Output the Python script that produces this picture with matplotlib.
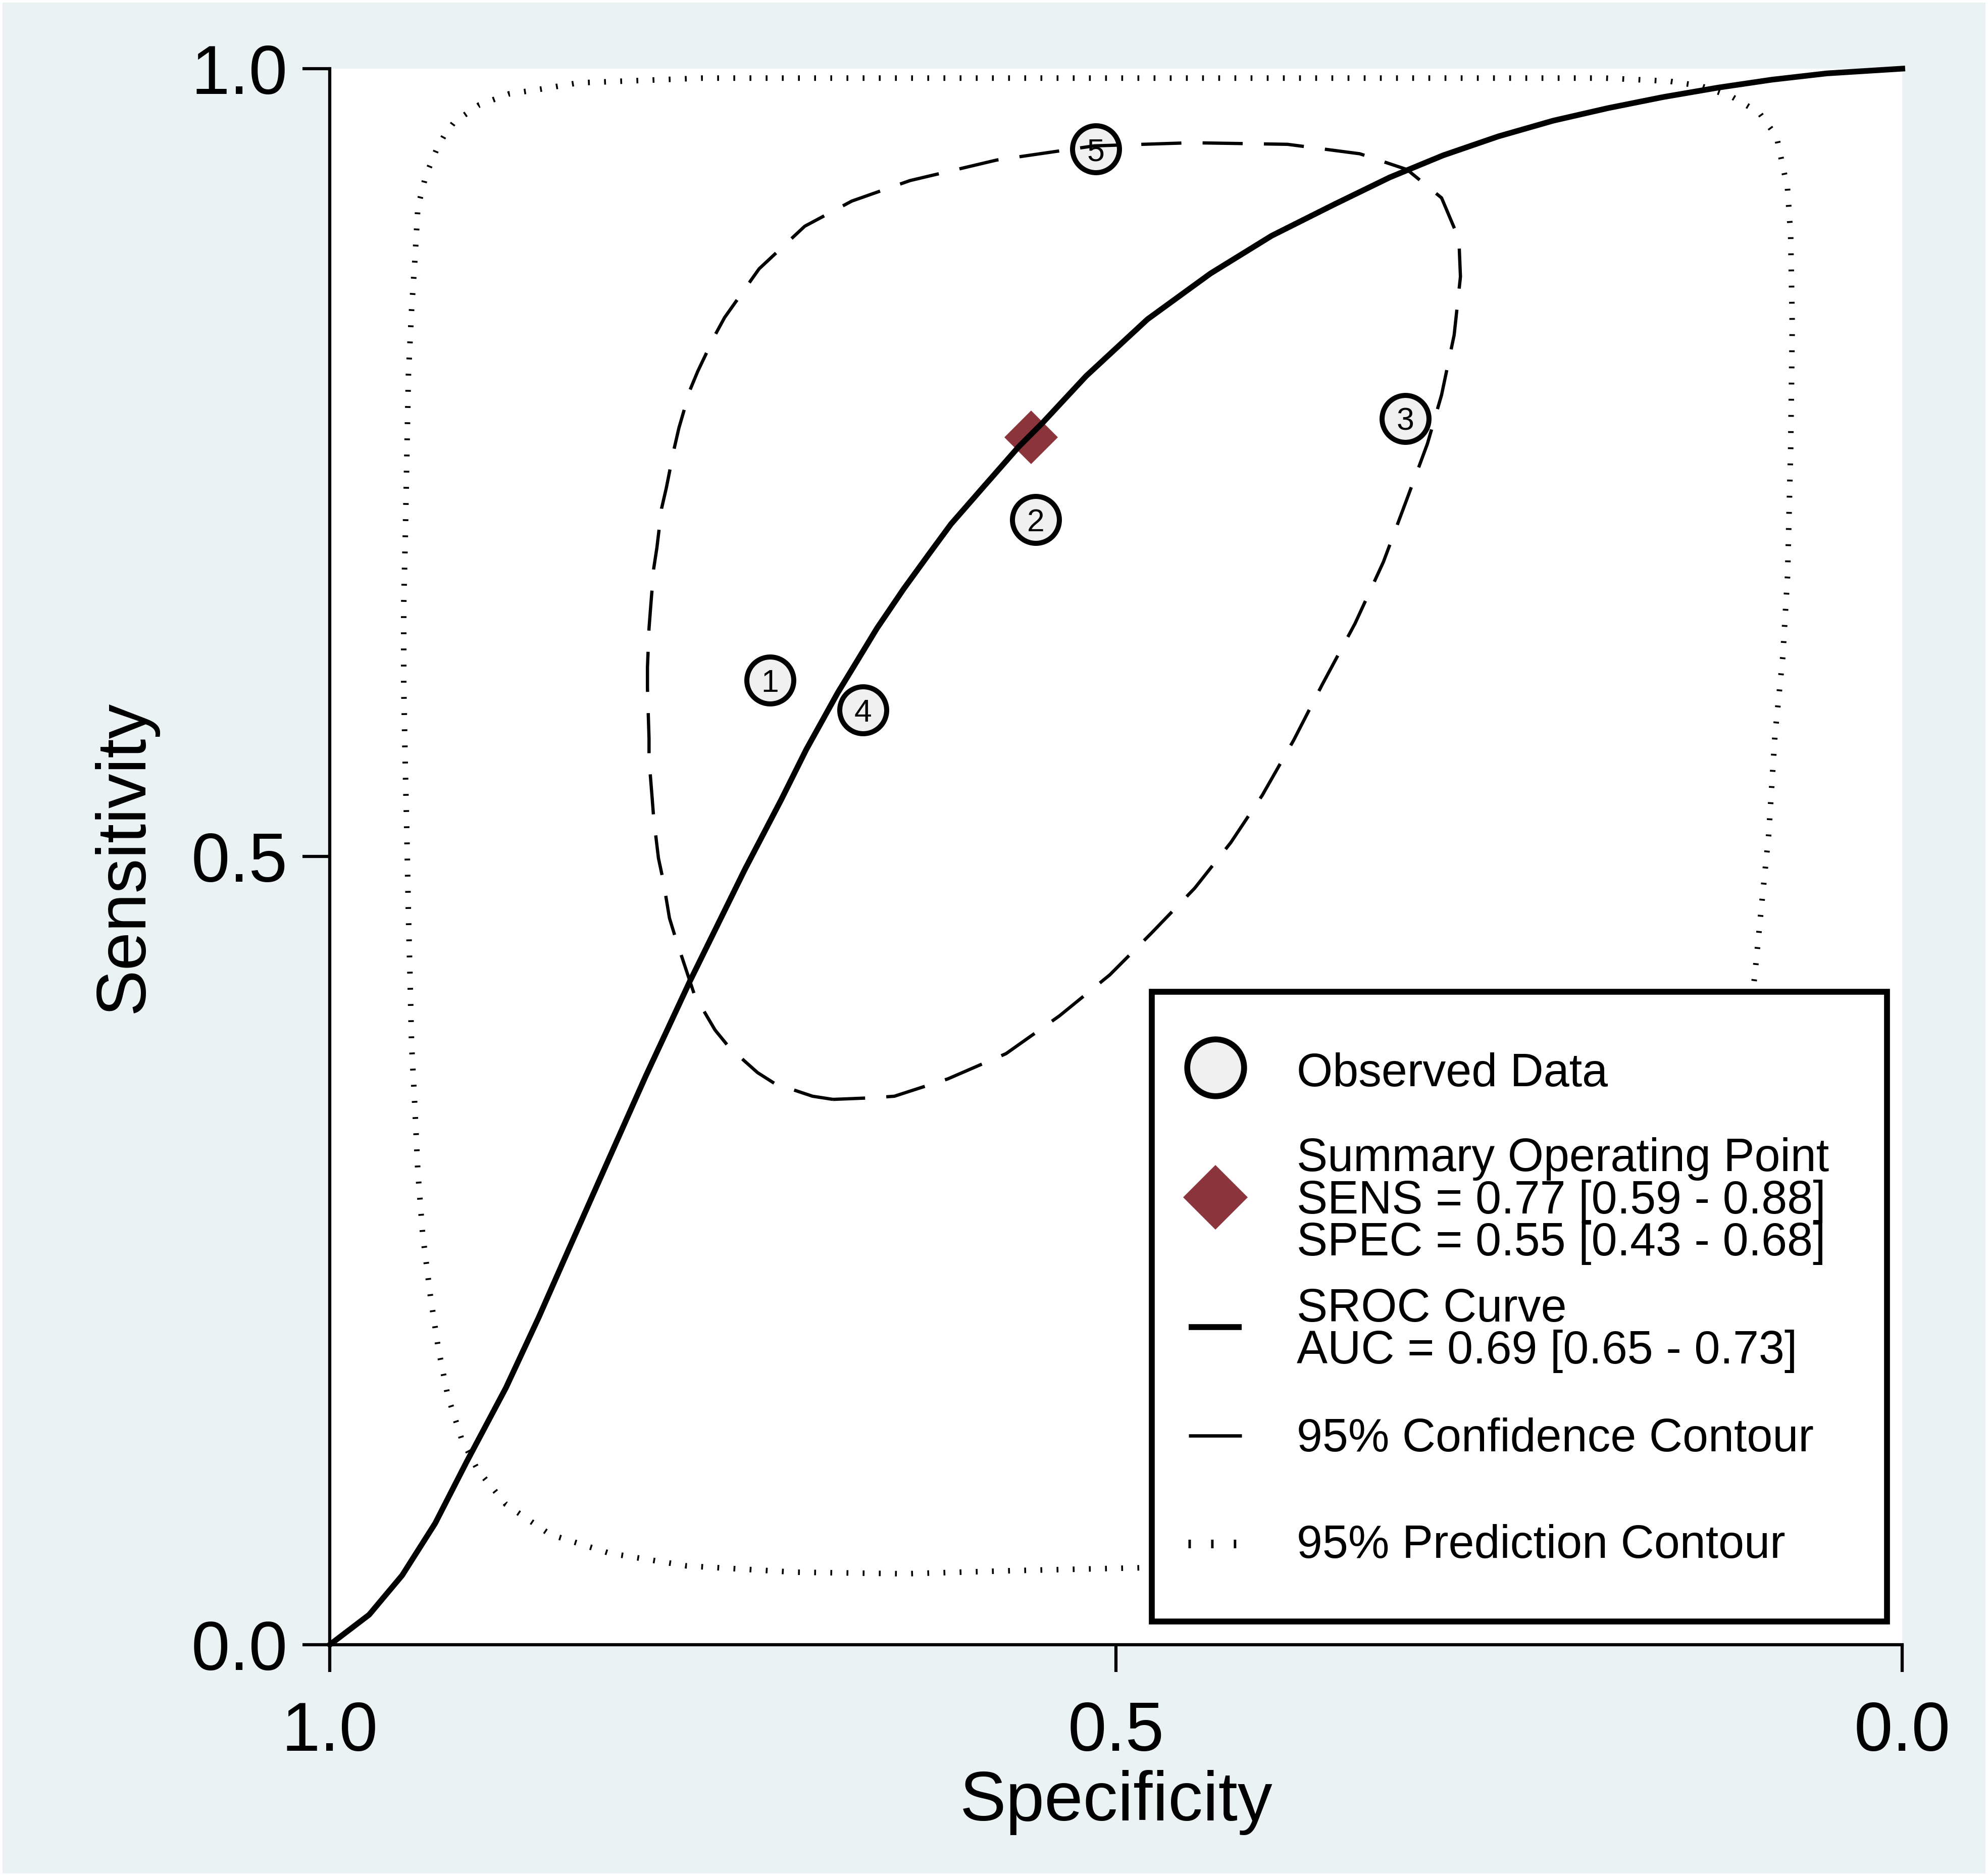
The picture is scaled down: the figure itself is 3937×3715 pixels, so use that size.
import matplotlib.pyplot as plt
from matplotlib.patches import Rectangle

plt.rcParams['font.family'] = ['Liberation Sans', 'DejaVu Sans']

# observed studies (specificity, sensitivity)
study_id = ['1', '2', '3', '4', '5']
study_spec = [0.720, 0.551, 0.316, 0.661, 0.513]
study_sens = [0.612, 0.714, 0.778, 0.593, 0.949]

# summary operating point
summ_spec = [0.554]
summ_sens = [0.766]

# SROC curve
sroc_spec = [1.000, 0.975, 0.954, 0.933, 0.913, 0.888, 0.867, 0.852, 0.828, 0.799,
             0.771, 0.736, 0.713, 0.697, 0.677, 0.666, 0.652, 0.635, 0.619, 0.605,
             0.584, 0.562, 0.547, 0.519, 0.480, 0.440, 0.401, 0.361, 0.326, 0.292,
             0.257, 0.222, 0.187, 0.152, 0.117, 0.083, 0.048, 0.000]
sroc_sens = [0.000, 0.019, 0.044, 0.077, 0.116, 0.163, 0.208, 0.242, 0.296, 0.361,
             0.421, 0.492, 0.536, 0.568, 0.604, 0.622, 0.645, 0.670, 0.692, 0.711,
             0.735, 0.760, 0.775, 0.805, 0.841, 0.870, 0.894, 0.914, 0.931, 0.945,
             0.957, 0.967, 0.975, 0.982, 0.988, 0.993, 0.997, 1.000]

# 95% confidence contour
conf_spec = [0.680, 0.693, 0.717, 0.728, 0.746, 0.755, 0.768, 0.772, 0.780, 0.784,
             0.788, 0.791, 0.794, 0.795, 0.797, 0.797, 0.798, 0.798, 0.797, 0.796,
             0.794, 0.792, 0.789, 0.786, 0.781, 0.778, 0.771, 0.766, 0.755, 0.749,
             0.727, 0.698, 0.668, 0.631, 0.576, 0.514, 0.452, 0.391, 0.345, 0.315,
             0.293, 0.282, 0.281, 0.285, 0.293, 0.302, 0.315, 0.330, 0.348, 0.369,
             0.387, 0.407, 0.427, 0.450, 0.478, 0.504, 0.536, 0.570, 0.607, 0.641,
             0.655, 0.680]
conf_sens = [0.346, 0.348, 0.356, 0.363, 0.379, 0.390, 0.412, 0.424, 0.448, 0.461,
             0.485, 0.499, 0.524, 0.537, 0.562, 0.575, 0.607, 0.620, 0.645, 0.658,
             0.683, 0.696, 0.721, 0.734, 0.759, 0.772, 0.796, 0.808, 0.831, 0.842,
             0.873, 0.900, 0.916, 0.929, 0.942, 0.951, 0.953, 0.952, 0.946, 0.936,
             0.918, 0.892, 0.868, 0.831, 0.793, 0.762, 0.727, 0.687, 0.648, 0.609,
             0.574, 0.539, 0.509, 0.480, 0.451, 0.425, 0.399, 0.375, 0.359, 0.348,
             0.347, 0.346]

# 95% prediction contour (part behind the legend not drawn)
pred_spec = [0.475, 0.565, 0.634, 0.704, 0.773, 0.822, 0.860, 0.888, 0.906, 0.916,
             0.925, 0.931, 0.936, 0.941, 0.944, 0.946, 0.948, 0.949, 0.950, 0.951,
             0.952, 0.953, 0.953, 0.952, 0.951, 0.950, 0.948, 0.946, 0.944, 0.939,
             0.932, 0.927, 0.921, 0.905, 0.886, 0.866, 0.842, 0.763, 0.210, 0.189,
             0.168, 0.148, 0.128, 0.108, 0.091, 0.080, 0.073, 0.071, 0.070, 0.071,
             0.073, 0.076, 0.081, 0.085, 0.090, 0.094, 0.096]
pred_sens = [0.049, 0.047, 0.045, 0.046, 0.050, 0.058, 0.070, 0.089, 0.111, 0.130,
             0.158, 0.188, 0.221, 0.261, 0.300, 0.343, 0.381, 0.424, 0.463, 0.514,
             0.557, 0.609, 0.660, 0.703, 0.755, 0.806, 0.847, 0.877, 0.912, 0.932,
             0.949, 0.958, 0.966, 0.977, 0.984, 0.987, 0.991, 0.994, 0.994, 0.994,
             0.993, 0.992, 0.989, 0.982, 0.972, 0.957, 0.924, 0.894, 0.837, 0.759,
             0.678, 0.627, 0.577, 0.514, 0.464, 0.423, 0.408]

ticks = [1.0, 0.5, 0.0]
tick_labels = ['1.0', '0.5', '0.0']

leg_lines = [
    ['Observed Data'],
    ['Summary Operating Point', 'SENS = 0.77 [0.59 - 0.88]', 'SPEC = 0.55 [0.43 - 0.68]'],
    ['SROC Curve', 'AUC = 0.69 [0.65 - 0.73]'],
    ['95% Confidence Contour'],
    ['95% Prediction Contour'],
]

bg = '#EAF2F3'
red = '#8C343C'
fill = '#F0F0F0'

W, H = 3937, 3715
fig = plt.figure(figsize=(W / 300, H / 300), dpi=300)
fig.patch.set_facecolor('white')
fig.add_artist(Rectangle((5 / W, 5 / H), 1 - 10 / W, 1 - 10 / H, transform=fig.transFigure,
                         facecolor=bg, edgecolor='none', zorder=-10))

ax = fig.add_axes([0.1659, 0.1233, 0.7910, 0.8401])
ax.set_facecolor('white')

ax.plot(pred_spec, pred_sens, color='black', lw=2.64, ls=(0, (0.33, 2.58)),
        dash_capstyle='butt', zorder=5)
ax.plot(conf_spec, conf_sens, color='black', lw=1.55, ls=(0, (12.3, 6.5)), zorder=5)
ax.plot(summ_spec, summ_sens, ls='none', marker='D', ms=18, mfc=red, mec=red, mew=0, zorder=2)
ax.plot(sroc_spec, sroc_sens, color='black', lw=2.7, zorder=3, clip_on=False,
        solid_joinstyle='round')
ax.plot(study_spec, study_sens, ls='none', marker='o', ms=22.3, mfc=fill, mec='black',
        mew=2.4, zorder=4)
for s, x, y in zip(study_id, study_spec, study_sens):
    ax.text(x, y, s, ha='center', va='center_baseline', fontsize=15, zorder=4.5)

ax.set_xlim(1, 0)
ax.set_ylim(0, 1)
ax.set_xticks(ticks)
ax.set_xticklabels(tick_labels)
ax.set_yticks(ticks)
ax.set_yticklabels(tick_labels)
for side in ['top', 'right']:
    ax.spines[side].set_visible(False)
for side in ['left', 'bottom']:
    ax.spines[side].set_linewidth(1.5)
ax.tick_params(axis='both', direction='out', length=13, width=1.5, labelsize=33)
ax.tick_params(axis='x', pad=13.5)
ax.tick_params(axis='y', pad=7)
ax.set_xlabel('Specificity', fontsize=33, labelpad=2)
ax.set_ylabel('Sensitivity', fontsize=33, labelpad=16)

# legend box drawn by hand
ta = ax.transAxes
ax.add_patch(Rectangle((0.5226, 0.0146), 0.4677, 0.3998, transform=ta, facecolor='white',
                       edgecolor='black', lw=2.8, zorder=10, clip_on=False))
hx = 0.5633
ax.plot([hx], [0.3663], transform=ta, marker='o', ms=27, mfc=fill, mec='black', mew=2.8,
        zorder=11, clip_on=False)
ax.plot([hx], [0.2838], transform=ta, marker='D', ms=21.7, mfc=red, mec=red, mew=0,
        zorder=11, clip_on=False)
ax.plot([0.5462, 0.5798], [0.2015, 0.2015], transform=ta, color='black', lw=2.8,
        solid_capstyle='butt', zorder=11, clip_on=False)
ax.plot([0.5462, 0.5798], [0.1327, 0.1327], transform=ta, color='black', lw=1.6,
        solid_capstyle='butt', zorder=11, clip_on=False)
ax.plot([0.5457, 0.5766], [0.0640, 0.0640], transform=ta, color='black', lw=4.1,
        ls=(0, (0.29, 2.34)), dash_capstyle='butt', zorder=11, clip_on=False)

leg_base = [[0.3545], [0.3005, 0.2735, 0.2469], [0.2051, 0.1785], [0.1228], [0.0552]]
for lines, ys in zip(leg_lines, leg_base):
    for t, y in zip(lines, ys):
        ax.text(0.615, y, t, transform=ta, fontsize=22, ha='left', va='baseline', zorder=11)

fig.savefig('out.png', dpi=300, facecolor=fig.get_facecolor())
